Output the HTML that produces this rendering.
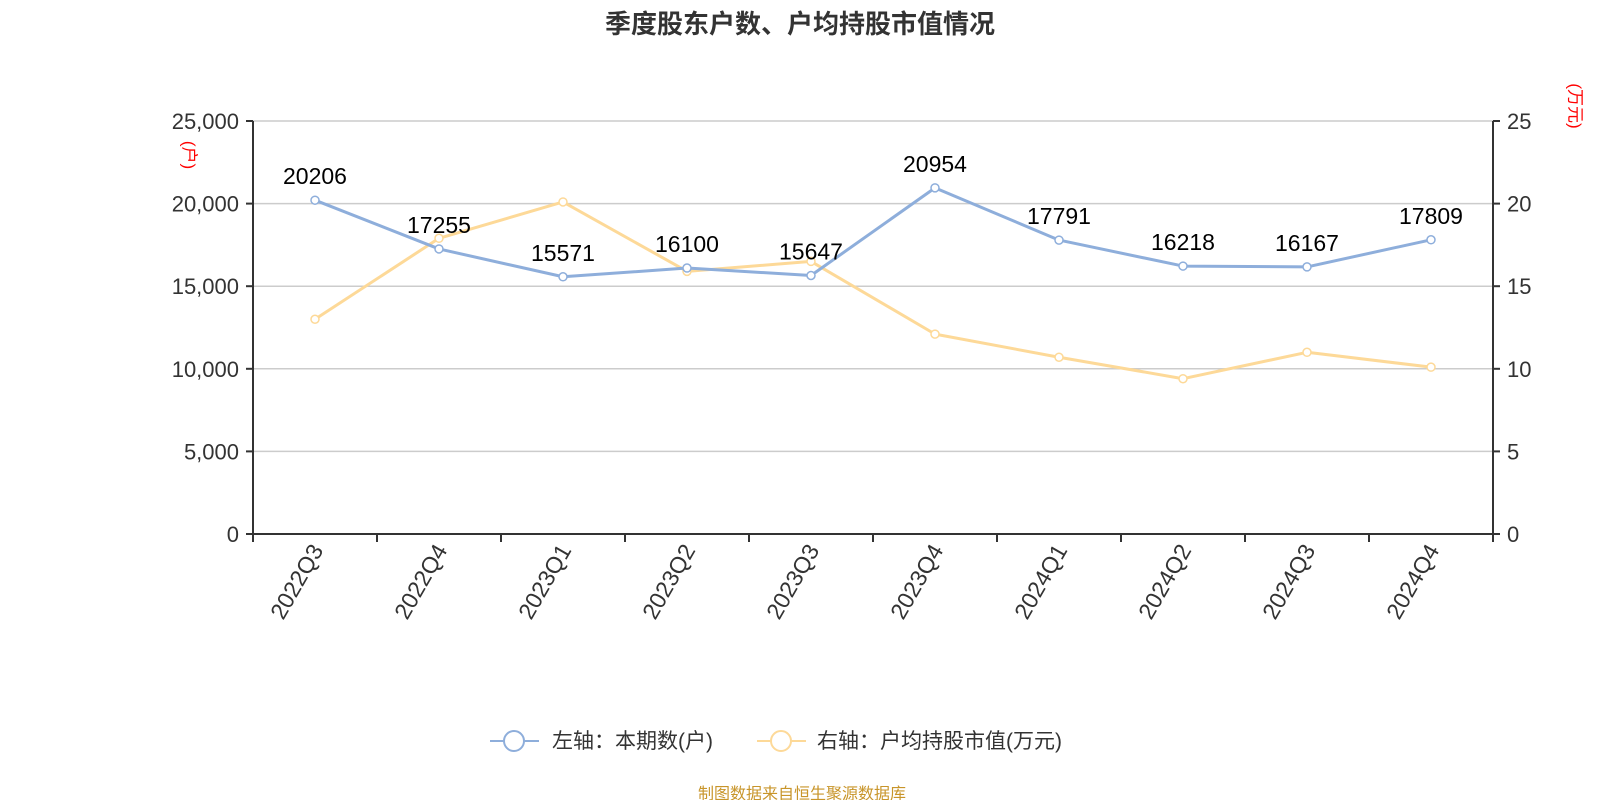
<!DOCTYPE html>
<html><head><meta charset="utf-8"><style>
body{margin:0;background:#fff;}
svg{display:block;font-family:"Liberation Sans","Noto Sans CJK SC",sans-serif;}
</style></head><body>
<svg id="c" width="1600" height="800">
<text x="800" y="33" text-anchor="middle" font-size="26" font-weight="bold" fill="#333">季度股东户数、户均持股市值情况</text>
<g id="grid"></g><g id="axes"></g><g id="series"></g>
<text transform="translate(188,155) rotate(90)" text-anchor="middle" font-size="17" fill="#f00" dominant-baseline="middle">(户)</text>
<text transform="translate(1574,106) rotate(90)" text-anchor="middle" font-size="17" fill="#f00" dominant-baseline="middle">(万元)</text>
<g>
<line x1="490" y1="741" x2="539" y2="741" stroke="#8eaedb" stroke-width="2"/>
<circle cx="514" cy="741" r="10" fill="#fff" stroke="#8eaedb" stroke-width="2"/>
<text x="552" y="748" font-size="21" fill="#333">左轴：本期数(户)</text></g>
<g>
<line x1="757" y1="741" x2="806" y2="741" stroke="#fdd998" stroke-width="2"/>
<circle cx="781" cy="741" r="10" fill="#fff" stroke="#fdd998" stroke-width="2"/>
<text x="817" y="748" font-size="21" fill="#333">右轴：户均持股市值(万元)</text></g>
<text x="802" y="799" text-anchor="middle" font-size="16" fill="#c8952a">制图数据来自恒生聚源数据库</text>
</svg>
<script>
const categories=["2022Q3","2022Q4","2023Q1","2023Q2","2023Q3","2023Q4","2024Q1","2024Q2","2024Q3","2024Q4"];
const households=[20206,17255,15571,16100,15647,20954,17791,16218,16167,17809];
const avgValue=[13.0,17.9,20.1,15.9,16.5,12.1,10.7,9.4,11.0,10.1];
const leftTicks=[0,5000,10000,15000,20000,25000];
const rightTicks=[0,5,10,15,20,25];
const NS="http://www.w3.org/2000/svg";
const X0=253,X1=1493,Y0=534,Y1=121;
const band=(X1-X0)/categories.length;
const xs=i=>X0+band*(i+0.5);
const yL=v=>Y0-v/25000*(Y0-Y1);
const yR=v=>Y0-v/25*(Y0-Y1);
function mk(tag,attrs,parent){const e=document.createElementNS(NS,tag);for(const k in attrs)e.setAttribute(k,attrs[k]);parent.appendChild(e);return e;}
const grid=document.getElementById('grid'),axes=document.getElementById('axes'),ser=document.getElementById('series');
leftTicks.forEach((t,i)=>{
 const y=yL(t);
 if(t>0){const g=mk('line',{x1:X0,x2:X1,y1:y,y2:y,stroke:'#ccc','stroke-width':1.5},grid);
 
 }
 mk('line',{x1:X0-7,x2:X0,y1:y,y2:y,stroke:'#333','stroke-width':2},axes);
 const tx=mk('text',{x:X0-14,y:y+8,'text-anchor':'end','font-size':22,fill:'#333'},axes);
 tx.textContent=t.toLocaleString('en-US');
 
 
});
rightTicks.forEach(t=>{
 const y=yR(t);
 mk('line',{x1:X1,x2:X1+7,y1:y,y2:y,stroke:'#333','stroke-width':2},axes);
 const tx=mk('text',{x:X1+14,y:y+8,'font-size':22,fill:'#333'},axes);
 tx.textContent=t;
 
 
});
mk('line',{x1:X0,x2:X0,y1:Y1,y2:Y0,stroke:'#333','stroke-width':2},axes);
mk('line',{x1:X1,x2:X1,y1:Y1,y2:Y0,stroke:'#333','stroke-width':2},axes);
mk('line',{x1:X0,x2:X1,y1:Y0,y2:Y0,stroke:'#333','stroke-width':2},axes);
for(let i=0;i<=categories.length;i++){const x=X0+band*i;mk('line',{x1:x,x2:x,y1:Y0,y2:Y0+8,stroke:'#333','stroke-width':2},axes);}
categories.forEach((c,i)=>{
 const x=xs(i);
 const tx=mk('text',{transform:`translate(${x+9},${Y0+16}) rotate(-60)`,'text-anchor':'end','font-size':23,fill:'#333'},axes);
 tx.textContent=c;
 
 
});
function line(vals,yf,color,name){
 const p=mk('polyline',{points:vals.map((v,i)=>xs(i)+','+yf(v)).join(' '),fill:'none',stroke:color,'stroke-width':3,'stroke-linejoin':'round'},ser);
 
 
 vals.forEach((v,i)=>{const c=mk('circle',{cx:xs(i),cy:yf(v),r:4,fill:'#fff',stroke:color,'stroke-width':1.5},ser);
 
 });
}
line(avgValue,yR,'#fdd998','avg-value');
line(households,yL,'#8eaedb','households');
households.forEach((v,i)=>{
 const tx=mk('text',{x:xs(i),y:yL(v)-16,'text-anchor':'middle','font-size':23,fill:'#000'},ser);
 tx.textContent=v;
 
 
});
</script>
</body></html>
